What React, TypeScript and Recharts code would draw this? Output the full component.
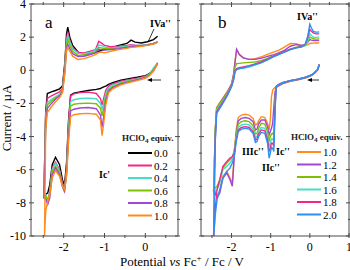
import { LineChart, Line, XAxis, YAxis } from "recharts"

// potential sweep (V vs Fc+/Fc): cathodic part, then the return (anodic) part
const potA = [
  0.3, 0.2, 0.1, 0.0, -0.2, -0.4, -0.6, -0.8, -0.9, -0.97, -1.02, -1.06, -1.1, -1.2, -1.4, -1.6, -1.75, -1.83, -1.88,
  -1.93, -1.98, -2.03, -2.1, -2.2, -2.28, -2.34, -2.39, -2.44, -2.48,
  -2.47, -2.44, -2.4, -2.3, -2.2, -2.1, -2.03, -1.97, -1.93, -1.9, -1.85, -1.78, -1.65, -1.5, -1.35, -1.22, -1.14,
  -1.08, -1.0, -0.85, -0.65, -0.45, -0.35, -0.25, -0.1, 0.05, 0.2, 0.3,
]

// current (µA), panel a, HClO4 0.0 ... 1.0 equiv.
const curA00 = [
  0.45, 0.0, -0.2, -0.32, -0.42, -0.5, -0.6, -0.75, -0.85, -0.95, -1.0, -1.05, -1.1, -1.15, -1.22, -1.3, -1.38, -1.5,
  -3.0, -5.6, -6.95, -6.6, -5.7, -5.25, -5.7, -6.9, -7.4, -7.5, -7.6,
  -6.0, -2.5, -1.4, -1.3, -1.22, -1.12, -0.95, 0.5, 2.2, 2.6, 2.0, 1.5, 1.1, 0.98, 1.0, 1.08, 1.15, 1.2, 1.25, 1.35,
  1.5, 1.62, 1.82, 1.7, 1.65, 1.72, 1.85, 2.05,
]
const curA02 = [
  0.4, 0.02, -0.22, -0.36, -0.48, -0.56, -0.66, -0.82, -0.95, -1.2, -1.7, -2.1, -1.7, -1.4, -1.32, -1.35, -1.42, -1.55,
  -3.2, -5.9, -7.15, -6.8, -6.0, -5.55, -5.9, -7.3, -7.9, -7.7, -7.7,
  -6.0, -2.6, -1.7, -1.55, -1.42, -1.3, -1.1, 0.3, 1.9, 2.3, 1.8, 1.35, 1.08, 1.05, 1.15, 1.25, 1.75, 1.65, 1.5, 1.42,
  1.45, 1.5, 1.55, 1.52, 1.5, 1.55, 1.62, 1.72,
]
const curA04 = [
  0.45, 0.15, -0.25, -0.4, -0.52, -0.62, -0.72, -0.9, -1.05, -1.4, -2.0, -2.35, -2.0, -1.72, -1.68, -1.7, -1.78, -1.9,
  -3.5, -6.1, -7.35, -7.0, -6.1, -5.6, -6.0, -7.4, -7.8, -7.5, -7.5,
  -6.5, -2.9, -1.95, -1.75, -1.6, -1.45, -1.2, 0.2, 1.75, 2.1, 1.7, 1.3, 1.02, 1.0, 1.08, 1.2, 1.52, 1.5, 1.4, 1.35,
  1.4, 1.45, 1.5, 1.5, 1.5, 1.55, 1.62, 1.72,
]
const curA06 = [
  0.42, 0.0, -0.27, -0.42, -0.55, -0.66, -0.78, -0.98, -1.15, -1.6, -2.3, -2.75, -2.3, -2.02, -1.98, -2.0, -2.05, -2.15,
  -3.8, -6.2, -7.2, -6.9, -6.2, -5.8, -6.1, -7.4, -7.9, -7.6, -7.6,
  -6.5, -3.1, -2.1, -1.85, -1.68, -1.5, -1.25, 0.1, 1.5, 1.87, 1.5, 1.15, 0.9, 0.92, 1.0, 1.12, 1.38, 1.35, 1.3, 1.3,
  1.35, 1.4, 1.45, 1.45, 1.48, 1.52, 1.6, 1.7,
]
const curA08 = [
  0.4, -0.02, -0.3, -0.45, -0.58, -0.7, -0.82, -1.05, -1.25, -1.85, -2.8, -3.45, -2.7, -2.32, -2.25, -2.28, -2.35, -2.45,
  -4.0, -6.3, -7.3, -7.0, -6.3, -5.9, -6.3, -7.7, -8.1, -7.8, -7.7,
  -6.8, -3.3, -2.3, -2.0, -1.75, -1.55, -1.3, 0.0, 1.3, 1.57, 1.3, 1.0, 0.83, 0.85, 0.95, 1.05, 1.27, 1.25, 1.22, 1.25,
  1.3, 1.38, 1.42, 1.45, 1.48, 1.52, 1.6, 1.7,
]
const curA10 = [
  0.4, -0.05, -0.32, -0.48, -0.62, -0.74, -0.88, -1.12, -1.35, -2.1, -3.2, -3.95, -3.0, -2.65, -2.6, -2.62, -2.68, -2.8,
  -4.3, -6.4, -7.2, -7.0, -6.4, -6.05, -6.5, -7.5, -7.9, -8.5, -10.5,
  -10.3, -3.6, -2.55, -2.2, -1.9, -1.65, -1.35, -0.2, 1.15, 1.4, 1.15, 0.85, 0.65, 0.7, 0.82, 0.95, 1.08, 1.1, 1.05,
  1.15, 1.25, 1.32, 1.38, 1.4, 1.45, 1.5, 1.58, 1.68,
]

const potB = [
  0.24, 0.2, 0.12, 0.03, -0.1, -0.3, -0.5, -0.7, -0.8, -0.86, -0.89, -0.92, -0.95, -0.98, -1.01, -1.04, -1.08, -1.15,
  -1.24, -1.31, -1.35, -1.39, -1.45, -1.55, -1.65, -1.75, -1.83, -1.88, -1.93, -1.98, -2.04, -2.12, -2.22, -2.3, -2.37,
  -2.42, -2.46,
  -2.45, -2.42, -2.38, -2.3, -2.2, -2.1, -2.0, -1.95, -1.91, -1.87, -1.8, -1.7, -1.55, -1.4, -1.25, -1.1, -0.95, -0.8,
  -0.65, -0.5, -0.35, -0.22, -0.12, -0.05, 0.0, 0.04, 0.09, 0.15, 0.2, 0.24,
]

// current (µA), panel b, HClO4 1.0 ... 2.0 equiv.
const curB10 = [
  0.33, 0.03, -0.17, -0.32, -0.45, -0.57, -0.67, -0.82, -0.95, -1.0, -1.05, -1.1, -1.2, -1.6, -3.0, -3.6, -3.2, -2.85,
  -2.8, -3.05, -3.25, -3.3, -2.9, -2.7, -2.65, -2.7, -2.85, -3.6, -5.0, -6.8, -6.5, -6.1, -6.4, -7.3, -7.6, -7.3, -7.2,
  -7.0, -3.7, -2.25, -1.95, -1.6, -1.25, -0.8, -0.25, 0.55, 1.25, 0.95, 0.75, 0.66, 0.7, 0.8, 0.95, 1.08, 1.2, 1.4,
  1.62, 1.6, 1.5, 1.5, 1.55, 1.62, 1.63, 1.64, 1.65, 1.65, 1.66,
]
const curB12 = [
  0.33, 0.03, -0.17, -0.32, -0.44, -0.56, -0.65, -0.8, -0.92, -1.05, -1.3, -2.2, -3.2, -3.5, -3.7, -3.9, -3.4, -3.0,
  -3.0, -3.25, -3.55, -3.6, -3.1, -2.9, -2.85, -2.9, -3.05, -3.8, -5.2, -7.0, -6.6, -6.2, -6.5, -7.4, -7.7, -7.4, -7.3,
  -7.1, -3.8, -2.3, -2.0, -1.65, -1.3, -0.85, -0.3, 0.5, 1.27, 0.95, 0.75, 0.66, 0.66, 0.72, 0.82, 0.92, 1.05, 1.2,
  1.45, 1.55, 1.5, 1.55, 1.7, 1.85, 1.82, 1.8, 1.8, 1.8, 1.8,
]
const curB14 = [
  0.35, 0.05, -0.15, -0.3, -0.42, -0.54, -0.63, -0.77, -0.88, -1.0, -1.9, -3.9, -3.8, -3.85, -4.0, -4.3, -3.7, -3.25,
  -3.2, -3.5, -3.8, -3.85, -3.35, -3.1, -3.05, -3.1, -3.25, -3.9, -4.8, -5.3, -5.4, -5.6, -5.9, -6.6, -7.0, -7.1, -7.3,
  -7.0, -3.8, -2.3, -2.0, -1.7, -1.35, -0.9, -0.4, 0.2, 0.4, 0.42, 0.45, 0.48, 0.5, 0.58, 0.7, 0.85, 0.98, 1.12, 1.28,
  1.4, 1.42, 1.5, 1.75, 2.0, 1.95, 1.9, 1.88, 1.88, 1.9,
]
const curB16 = [
  0.35, 0.05, -0.15, -0.3, -0.42, -0.54, -0.62, -0.75, -0.86, -0.97, -2.2, -4.3, -4.15, -4.15, -4.4, -4.6, -4.0, -3.5,
  -3.45, -3.7, -4.0, -4.05, -3.55, -3.3, -3.25, -3.3, -3.45, -4.1, -4.9, -5.4, -5.6, -5.8, -6.0, -6.8, -7.2, -7.3, -7.5,
  -7.3, -4.0, -2.4, -2.1, -1.8, -1.4, -0.92, -0.5, -0.02, 0.08, 0.1, 0.12, 0.2, 0.32, 0.45, 0.62, 0.8, 0.95, 1.1, 1.25,
  1.35, 1.4, 1.5, 1.85, 2.2, 2.1, 2.0, 1.98, 2.0, 2.02,
]
const curB18 = [
  0.35, 0.05, -0.15, -0.3, -0.42, -0.54, -0.62, -0.75, -0.86, -0.97, -2.3, -4.6, -4.4, -4.4, -4.7, -4.9, -4.2, -3.65,
  -3.6, -3.85, -4.15, -4.2, -3.7, -3.45, -3.4, -3.45, -3.6, -4.2, -5.0, -5.2, -5.3, -5.5, -5.8, -6.6, -7.2, -8.5, -10.3,
  -9.0, -4.3, -2.5, -2.2, -1.85, -1.45, -0.95, -0.55, -0.05, 0.1, 0.15, 0.2, 0.28, 0.38, 0.5, 0.65, 0.82, 0.97, 1.12,
  1.27, 1.37, 1.42, 1.55, 2.0, 2.47, 2.35, 2.25, 2.2, 2.2, 2.2,
]
const curB20 = [
  0.35, 0.05, -0.15, -0.3, -0.42, -0.54, -0.62, -0.75, -0.88, -1.0, -2.5, -4.9, -4.7, -4.65, -5.0, -5.3, -4.4, -3.8,
  -3.75, -4.0, -4.3, -4.35, -3.8, -3.55, -3.5, -3.55, -3.7, -4.3, -5.2, -5.6, -5.9, -6.1, -6.5, -7.2, -7.8, -8.8, -10.3,
  -9.0, -4.5, -2.6, -2.3, -1.9, -1.5, -1.0, -0.6, -0.1, 0.05, 0.1, 0.15, 0.25, 0.35, 0.45, 0.62, 0.8, 0.95, 1.1, 1.25,
  1.35, 1.42, 1.55, 2.1, 2.78, 2.55, 2.35, 2.3, 2.3, 2.32,
]

const equivA = ["0.0", "0.2", "0.4", "0.6", "0.8", "1.0"]
const equivB = ["1.0", "1.2", "1.4", "1.6", "1.8", "2.0"]
const colorsA = ["#000000", "#f7258a", "#48dcc8", "#7cc000", "#a246d6", "#ff8c1a"]
const colorsB = ["#ff8c1a", "#a246d6", "#7cc000", "#48dcc8", "#f7258a", "#2f8ff0"]
const currentsA = [curA00, curA02, curA04, curA06, curA08, curA10]
const currentsB = [curB10, curB12, curB14, curB16, curB18, curB20]

const xTicksA = [-2.5, -2, -1.5, -1, -0.5, 0, 0.5]
const xTicksB = [-2.5, -2, -1.5, -1, -0.5, 0, 0.5, 1]
const yTicks = [-10, -9, -8, -7, -6, -5, -4, -3, -2, -1, 0, 1, 2, 3, 4]

const FONT = "'Liberation Serif', 'DejaVu Serif', serif"
const FRAME = "#4a4a4a"

function AxisTick(props: any) {
  const { x, y, payload, side, showLabel } = props
  const v = payload.value
  const vertical = side === "left" || side === "right"
  const major = vertical ? v % 2 === 0 : Number.isInteger(v)
  const len = major ? 5 : 3
  if (vertical) {
    const dir = side === "left" ? 1 : -1
    return (
      <g>
        <line x1={x} y1={y} x2={x + dir * len} y2={y} stroke={FRAME} />
        {showLabel && major && (
          <text x={x - 3} y={y + 4} textAnchor="end" fontSize={12} fontFamily={FONT} fill="#000">
            {v}
          </text>
        )}
      </g>
    )
  }
  const dir = side === "bottom" ? -1 : 1
  return (
    <g>
      <line x1={x} y1={y} x2={x} y2={y + dir * len} stroke={FRAME} />
      {showLabel && major && (
        <text x={x} y={y + 13} textAnchor="middle" fontSize={12} fontFamily={FONT} fill="#000">
          {v}
        </text>
      )}
    </g>
  )
}

function Panel({ pot, currents, colors, domain, xTicks, margin, yLabels }: any) {
  return (
    <div style={{ position: "absolute", left: 0, top: 0 }}>
      <LineChart width={350} height={270} margin={margin}>
        <XAxis
          dataKey="e"
          type="number"
          domain={domain}
          allowDataOverflow
          ticks={xTicks}
          interval={0}
          height={20}
          tickSize={0}
          tickLine={false}
          axisLine={{ stroke: FRAME }}
          tick={(p: any) => <AxisTick {...p} side="bottom" showLabel />}
        />
        <XAxis
          xAxisId="top"
          orientation="top"
          dataKey="e"
          type="number"
          domain={domain}
          allowDataOverflow
          ticks={xTicks}
          interval={0}
          height={1}
          tickSize={0}
          tickLine={false}
          axisLine={{ stroke: FRAME }}
          tick={(p: any) => <AxisTick {...p} side="top" />}
        />
        <YAxis
          type="number"
          domain={[-10, 4]}
          allowDataOverflow
          ticks={yTicks}
          interval={0}
          width={31}
          tickSize={0}
          tickLine={false}
          axisLine={{ stroke: FRAME }}
          tick={(p: any) => <AxisTick {...p} side="left" showLabel={yLabels} />}
        />
        <YAxis
          yAxisId="right"
          orientation="right"
          type="number"
          domain={[-10, 4]}
          allowDataOverflow
          ticks={yTicks}
          interval={0}
          width={1}
          tickSize={0}
          tickLine={false}
          axisLine={{ stroke: FRAME }}
          tick={(p: any) => <AxisTick {...p} side="right" />}
        />
        {currents.map((cur: number[], k: number) => (
          <Line
            key={k}
            data={pot.map((e: number, j: number) => ({ e, i: cur[j] }))}
            dataKey="i"
            type="linear"
            stroke={colors[k]}
            strokeWidth={1.4}
            dot={false}
            activeDot={false}
            isAnimationActive={false}
          />
        ))}
      </LineChart>
    </div>
  )
}

function LegendBlock({ x, y, names, colors }: any) {
  return (
    <g fontFamily={FONT}>
      <text x={x} y={y} fontSize={9} fontWeight="bold" fill="#222">
        HClO<tspan dy={2} fontSize={7}>4</tspan>
        <tspan dy={-2}> equiv.</tspan>
      </text>
      {names.map((n: string, k: number) => (
        <g key={n}>
          <line x1={x + 6} x2={x + 30} y1={y + 12 + k * 12.5} y2={y + 12 + k * 12.5} stroke={colors[k]} strokeWidth={2} />
          <text x={x + 32} y={y + 16 + k * 12.5} fontSize={11} fill="#000">
            {n}
          </text>
        </g>
      ))}
    </g>
  )
}

export default function App() {
  const bold = { fontFamily: FONT, fontSize: 10, fontWeight: "bold" as const, fill: "#000" }
  return (
    <div style={{ position: "absolute", left: 0, top: 0, width: 350, height: 270, background: "#fff" }}>
      <Panel
        pot={potA}
        currents={currentsA}
        colors={colorsA}
        domain={[-2.8, 0.8]}
        xTicks={xTicksA}
        margin={{ top: 3, right: 171, bottom: 14, left: 0 }}
        yLabels
      />
      <Panel
        pot={potB}
        currents={currentsB}
        colors={colorsB}
        domain={[-2.78, 1.0]}
        xTicks={xTicksB}
        margin={{ top: 3, right: 0, bottom: 14, left: 170 }}
        yLabels={false}
      />
      <svg width={350} height={270} style={{ position: "absolute", left: 0, top: 0, pointerEvents: "none" }}>
        <text transform="translate(11,118) rotate(-90)" textAnchor="middle" fontFamily={FONT} fontSize={13}>
          Current / µA
        </text>
        <text x={182} y={266} textAnchor="middle" fontFamily={FONT} fontSize={13}>
          Potential <tspan fontStyle="italic">vs</tspan> Fc<tspan dy={-5} fontSize={9}>+</tspan>
          <tspan dy={5}> / Fc / V</tspan>
        </text>
        <text x={45} y={28} fontFamily={FONT} fontSize={17}>a</text>
        <text x={218} y={28} fontFamily={FONT} fontSize={17}>b</text>
        <text x={150} y={27} {...bold}>IVa''</text>
        <line x1={154} y1={29} x2={148} y2={42} stroke="#000" strokeWidth={0.8} />
        <text x={297} y={20} {...bold}>IVa''</text>
        <text x={99} y={178} {...bold}>Ic'</text>
        <text x={242} y={155} {...bold}>IIIc''</text>
        <text x={276} y={155} {...bold}>Ic''</text>
        <text x={262} y={171} {...bold}>IIc''</text>
        <line x1={150} y1={80} x2={161} y2={80} stroke="#000" strokeWidth={0.8} />
        <polygon points="147,80 152,78 152,82" fill="#000" />
        <line x1={310} y1={80} x2={319} y2={80} stroke="#000" strokeWidth={0.8} />
        <polygon points="307,80 312,78 312,82" fill="#000" />
        <LegendBlock x={122} y={141} names={equivA} colors={colorsA} />
        <LegendBlock x={291} y={140} names={equivB} colors={colorsB} />
      </svg>
    </div>
  )
}
